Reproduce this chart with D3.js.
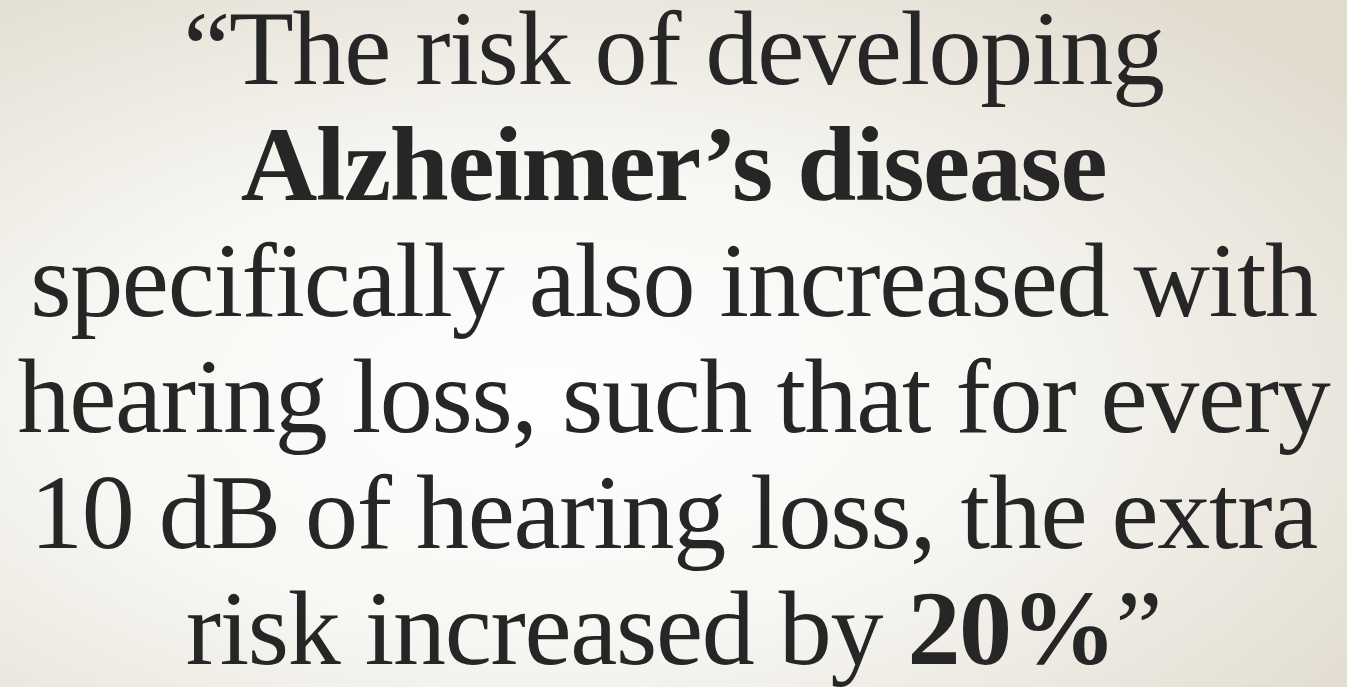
<!DOCTYPE html>
<html>
<head>
<meta charset="utf-8">
<script src="https://cdn.jsdelivr.net/npm/d3@7"></script>
<style>
	html, body { margin:0; padding:0; overflow:hidden; }
	svg { display:block; }
	.quote text { fill:#262626; font-family:"Liberation Serif", "DejaVu Serif", serif; }
</style>
</head>
<body>
<div id="container"></div>
<script>
	var width = 1347, height = 687;

	// slide text, one entry per line; each segment [text, bold]
	var line1 = [["\u201CThe risk of developing", false]];
	var line2 = [["Alzheimer\u2019s disease", true]];
	var line3 = [["specifically also increased with", false]];
	var line4 = [["hearing loss, such that for every", false]];
	var line5 = [["10 dB of hearing loss, the extra", false]];
	var line6 = [["risk increased by ", false], ["20%", true], ["\u201D", false]];
	var lines = [line1, line2, line3, line4, line5, line6];

	var widestLine = 3;      // "hearing loss..." spans most of the slide
	var widestPx = 1312;
	var fontSize = 106;      // gives ~70px cap height like the slide

	var svg = d3.select("#container").append("svg")
		.attr("width", width)
		.attr("height", height);

	var defs = svg.append("defs");
	var grad = defs.append("radialGradient")
		.attr("id", "bg")
		.attr("cx", "40%").attr("cy", "58%").attr("r", "75%");
	grad.append("stop").attr("offset", "0%").attr("stop-color", "#fefefd");
	grad.append("stop").attr("offset", "45%").attr("stop-color", "#f8f7f4");
	grad.append("stop").attr("offset", "100%").attr("stop-color", "#e2dccf");

	svg.append("rect")
		.attr("width", width)
		.attr("height", height)
		.attr("fill", "url(#bg)");

	// baseline of each line
	var y = d3.scaleLinear()
		.domain([0, lines.length - 1])
		.range([84, 664]);

	var g = svg.append("g").attr("class", "quote");

	var texts = g.selectAll("text").data(lines).enter().append("text")
		.attr("x", width / 2)
		.attr("y", function(d, i){ return y(i); })
		.attr("text-anchor", "middle")
		.style("font-size", fontSize + "px");

	texts.selectAll("tspan").data(function(d){ return d; }).enter().append("tspan")
		.style("font-weight", function(d){ return d[1] ? "bold" : "normal"; })
		.text(function(d){ return d[0]; });

	// the slide face is wider than Liberation Serif: spread letters to fit
	var node = texts.nodes()[widestLine];
	var w = node.getComputedTextLength();
	var n = line4[0][0].length;
	var spacing = (widestPx - w) / n;
	texts.style("letter-spacing", spacing + "px");
</script>
</body>
</html>
